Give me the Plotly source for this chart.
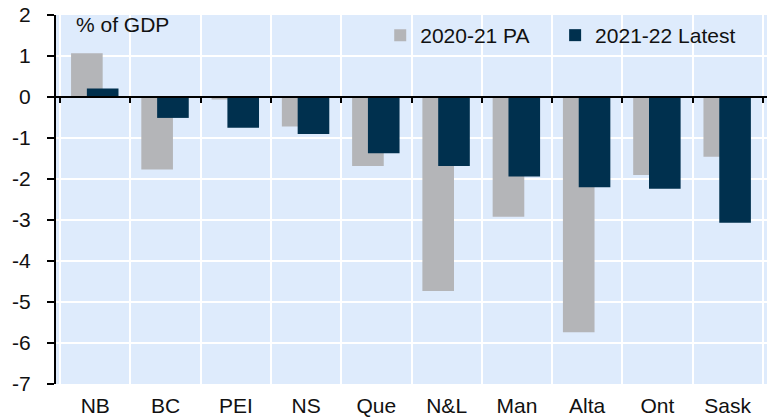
import plotly.graph_objects as go

# provincial budget balances, % of GDP
provinces = ["NB", "BC", "PEI", "NS", "Que", "N&L", "Man", "Alta", "Ont", "Sask"]
pa_2020_21 = [1.07, -1.77, -0.06, -0.72, -1.68, -4.73, -2.92, -5.74, -1.90, -1.46]
latest_2021_22 = [0.21, -0.51, -0.75, -0.90, -1.37, -1.68, -1.94, -2.20, -2.24, -3.07]
y_ticks = [2, 1, 0, -1, -2, -3, -4, -5, -6, -7]
y_labels = ["2", "1", "0", "-1", "-2", "-3", "-4", "-5", "-6", "-7"]

GREY = "#B4B5B8"
NAVY = "#00304E"
BG = "#DEEBFC"
FONT = "Liberation Sans, Arial, sans-serif"
FS = 21

fig = go.Figure()

fig.add_trace(
    go.Bar(
        x=provinces,
        y=pa_2020_21,
        name="2020-21 PA",
        marker=dict(color=GREY, line=dict(width=0)),
        width=0.45,
        offset=-0.345,
        legend="legend",
    )
)
fig.add_trace(
    go.Bar(
        x=provinces,
        y=latest_2021_22,
        name="2021-22 Latest",
        marker=dict(color=NAVY, line=dict(width=0)),
        width=0.45,
        offset=-0.12,
        legend="legend2",
    )
)
# invisible trace so the zero-line tick axis gets drawn
fig.add_trace(
    go.Scatter(
        x=provinces,
        y=[0] * len(provinces),
        xaxis="x2",
        mode="markers",
        marker=dict(opacity=0),
        hoverinfo="skip",
        showlegend=False,
    )
)

legend_style = dict(
    orientation="h",
    y=1.0,
    xanchor="left",
    yanchor="top",
    bgcolor="rgba(0,0,0,0)",
    font=dict(size=FS),
    itemwidth=30,
)

fig.update_layout(
    barmode="overlay",
    width=772,
    height=419,
    margin=dict(l=56, r=5, t=15, b=35),
    paper_bgcolor="#FFFFFF",
    plot_bgcolor=BG,
    font=dict(family=FONT, size=FS, color="#111111"),
    xaxis=dict(
        categoryorder="array",
        categoryarray=provinces,
        tickson="boundaries",
        ticks="",
        showline=False,
        showgrid=True,
        gridcolor="#FFFFFF",
        gridwidth=2,
        tickfont=dict(size=FS),
        ticklabelstandoff=7,
        ticklabeloverflow="allow",
        automargin=False,
    ),
    xaxis2=dict(
        overlaying="x",
        matches="x",
        anchor="free",
        position=7 / 9,
        side="bottom",
        categoryorder="array",
        categoryarray=provinces,
        tickson="boundaries",
        ticks="outside",
        ticklen=5,
        tickwidth=2,
        tickcolor="#000000",
        showticklabels=False,
        showline=True,
        linecolor="#000000",
        linewidth=2,
        showgrid=False,
        automargin=False,
    ),
    yaxis=dict(
        range=[-7, 2],
        tickvals=y_ticks,
        ticktext=y_labels,
        ticks="outside",
        ticklen=7,
        tickwidth=2,
        tickcolor="#000000",
        showline=True,
        linecolor="#000000",
        linewidth=2,
        gridcolor="#FFFFFF",
        gridwidth=2,
        zeroline=False,
        tickfont=dict(size=FS),
        ticklabelstandoff=12,
        ticklabeloverflow="allow",
        automargin=False,
    ),
    legend=dict(x=0.456, **legend_style),
    legend2=dict(x=0.702, **legend_style),
    annotations=[
        dict(
            text="% of GDP",
            xref="paper",
            yref="paper",
            x=0.025,
            y=0.973,
            xanchor="left",
            yanchor="middle",
            showarrow=False,
            font=dict(size=FS),
        )
    ],
)

# drop the default page margin so the figure sits flush in the window
fig.write_html(
    "out.html",
    config={"displayModeBar": False},
    post_script="document.body.style.margin='0';document.body.style.overflow='hidden';",
)
